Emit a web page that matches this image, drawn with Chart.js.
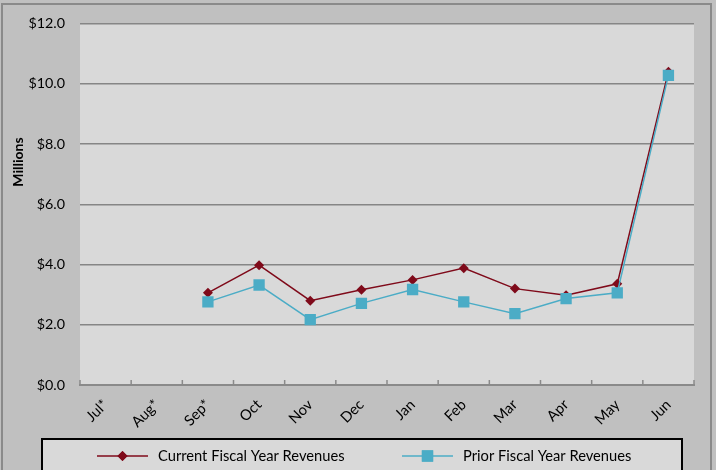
<!DOCTYPE html>
<html>
<head>
    <title>Fiscal Year Revenues</title>
    <script src="https://cdn.jsdelivr.net/npm/chart.js@4.4.0/dist/chart.umd.min.js"></script>
    <style>
        html, body { margin: 0; padding: 0; background: #c0c0c0; }
        .chart-container { width: 716px; height: 470px; position: relative; }
    </style>
</head>
<body>
    <div class="chart-container">
        <canvas id="revenueChart"></canvas>
    </div>

    <script>
        const months = ['Jul*', 'Aug*', 'Sep*', 'Oct', 'Nov', 'Dec', 'Jan', 'Feb', 'Mar', 'Apr', 'May', 'Jun'];
        const currentYear = [null, null, 3.06, 3.98, 2.8, 3.16, 3.49, 3.88, 3.2, 2.98, 3.36, 10.4];
        const priorYear = [null, null, 2.76, 3.32, 2.17, 2.71, 3.17, 2.76, 2.37, 2.87, 3.06, 10.28];
        const seriesNames = ['Current Fiscal Year Revenues', 'Prior Fiscal Year Revenues'];

        const redColor = '#7f0a1a';
        const blueColor = '#4bacc6';
        const font = 'Lato, "Open Sans", sans-serif';

        // background, frame, plot fill, axis title, tick marks and legend box
        const decor = {
            id: 'decor',
            beforeDraw(chart) {
                const c = chart.ctx, a = chart.chartArea;
                c.save();
                c.fillStyle = '#c0c0c0';
                c.fillRect(0, 0, chart.width, chart.height);
                c.strokeStyle = '#8a8a8a';
                c.lineWidth = 2;
                c.strokeRect(2, 4, 709, 480);
                c.fillStyle = '#d9d9d9';
                c.fillRect(a.left, a.top, a.right - a.left, a.bottom - a.top);
                c.restore();
            },
            afterDraw(chart) {
                const c = chart.ctx, a = chart.chartArea;
                c.save();
                // tick marks on category boundaries
                const step = (a.right - a.left) / months.length;
                c.strokeStyle = '#8a8a8a';
                c.lineWidth = 1.5;
                for (let i = 0; i <= months.length; i++) {
                    const x = a.left + i * step;
                    c.beginPath();
                    c.moveTo(x, a.bottom);
                    c.lineTo(x, a.bottom - 5);
                    c.stroke();
                }
                // y axis title
                c.translate(18, 162);
                c.rotate(-Math.PI / 2);
                c.fillStyle = '#000';
                c.font = 'bold 14px ' + font;
                c.textAlign = 'center';
                c.textBaseline = 'middle';
                c.fillText('Millions', 0, 0);
                c.restore();

                // legend
                c.save();
                c.fillStyle = '#d9d9d9';
                c.fillRect(42, 439, 640, 40);
                c.strokeStyle = '#000';
                c.lineWidth = 2;
                c.strokeRect(42, 439, 640, 40);
                const ly = 456;
                const items = [
                    { x: 97, color: redColor, style: 'rectRot', r: 5 },
                    { x: 402, color: blueColor, style: 'rect', r: 8 }
                ];
                items.forEach((it, i) => {
                    c.strokeStyle = it.color;
                    c.lineWidth = 1.5;
                    c.beginPath();
                    c.moveTo(it.x, ly);
                    c.lineTo(it.x + 51, ly);
                    c.stroke();
                    c.fillStyle = it.color;
                    Chart.helpers.drawPoint(c, { pointStyle: it.style, radius: it.r, borderWidth: 0 }, it.x + 25.5, ly);
                    c.fill();
                    c.fillStyle = '#000';
                    c.font = '14.7px ' + font;
                    c.textAlign = 'left';
                    c.textBaseline = 'middle';
                    c.fillText(seriesNames[i], it.x + 61, ly);
                });
                c.restore();
            }
        };

        const ctx = document.getElementById('revenueChart').getContext('2d');

        new Chart(ctx, {
            type: 'line',
            data: {
                labels: months,
                datasets: [{
                    label: seriesNames[0],
                    data: currentYear,
                    borderColor: redColor,
                    backgroundColor: redColor,
                    borderWidth: 1.5,
                    pointStyle: 'rectRot',
                    pointRadius: 5,
                    pointBorderWidth: 0,
                    tension: 0,
                    order: 2
                }, {
                    label: seriesNames[1],
                    data: priorYear,
                    borderColor: blueColor,
                    backgroundColor: blueColor,
                    borderWidth: 1.5,
                    pointStyle: 'rect',
                    pointRadius: 8,
                    pointBorderWidth: 0,
                    tension: 0,
                    order: 1
                }]
            },
            options: {
                responsive: true,
                maintainAspectRatio: false,
                animation: false,
                layout: {
                    padding: { left: 0, top: 20, right: 22, bottom: 0 }
                },
                plugins: {
                    legend: { display: false },
                    tooltip: { enabled: false }
                },
                scales: {
                    y: {
                        min: 0,
                        max: 12,
                        afterFit(scale) { scale.width = 80; },
                        ticks: {
                            stepSize: 2,
                            padding: 15,
                            color: '#000',
                            font: { family: font, size: 14.3 },
                            callback: v => '$' + v.toFixed(1)
                        },
                        grid: {
                            color: '#868686',
                            lineWidth: 1.5,
                            drawTicks: false
                        },
                        border: { display: false }
                    },
                    x: {
                        offset: true,
                        afterFit(scale) { scale.height = 85; },
                        ticks: {
                            maxRotation: 45,
                            minRotation: 45,
                            padding: 3,
                            color: '#000',
                            font: { family: font, size: 14.7 }
                        },
                        grid: {
                            display: false
                        },
                        border: {
                            display: true,
                            color: '#8a8a8a',
                            width: 2
                        }
                    }
                }
            },
            plugins: [decor]
        });
    </script>
</body>
</html>
